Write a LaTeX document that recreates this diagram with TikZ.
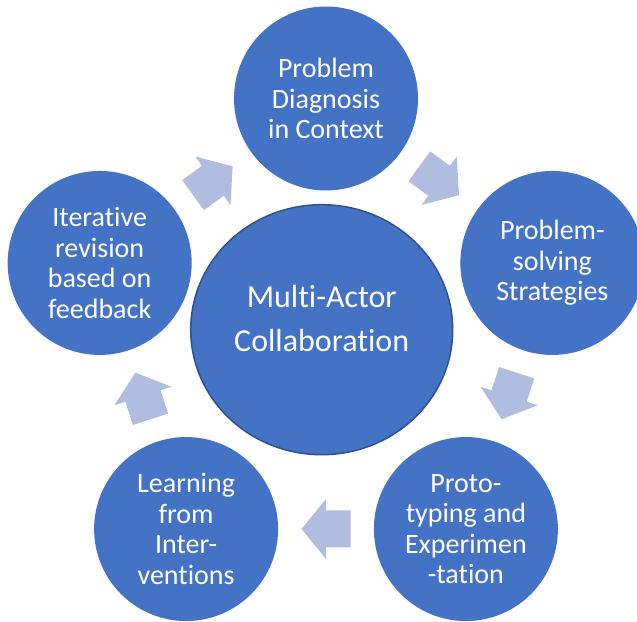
\documentclass[tikz,border=0pt]{standalone}
\usepackage{fontspec}
\setmainfont{Carlito}[Ligatures={NoCommon,NoRare,NoContextual}]
\usetikzlibrary{shapes.geometric}
\definecolor{stepblue}{HTML}{4472C4}
\definecolor{rimblue}{HTML}{2F528F}
\definecolor{arrowblue}{RGB}{176,189,222}
\begin{document}
\begin{tikzpicture}[
		x=1pt, y=1pt,
		every node/.style={text=white, align=center},
		phase/.style={circle, fill=stepblue, minimum size=184pt, inner sep=0pt, font=\fontsize{28}{30.5}\selectfont},
		hub/.style={ellipse, fill=stepblue, draw=rimblue, line width=1.5pt, minimum width=262pt, minimum height=250pt},
		hubtext/.style={font=\fontsize{32}{44}\selectfont},
		cyclearrow/.pic={\fill[arrowblue] (-24.5,-18.5) -- (0,-18.5) -- (0,-30) -- (24.5,0) -- (0,30) -- (0,18.5) -- (-24.5,18.5) -- cycle;}
	]
	\useasboundingbox (0,0) rectangle (637,621);
	\coordinate (middle) at (326,284.5);
	\node[hub] (hub) at (321.7,291.3) {};
	\node[hubtext] (hublabel) at ([yshift=11]hub.center) {Multi-Actor\\Collaboration};
	\node[phase] (diagnosis) at ([shift={(90:238)}]middle) {Problem\\Diagnosis\\in Context};
	\node[phase] (strategies) at ([shift={(18:238)}]middle) {Problem-\\solving\\Strategies};
	\node[phase] (prototyping) at ([shift={(-54:238)}]middle) {Proto-\\typing and\\Experimen\\-tation};
	\node[phase] (learning) at ([shift={(-126:238)}]middle) {Learning\\from\\Inter-\\ventions};
	\node[phase] (revision) at ([shift={(162:238)}]middle) {Iterative\\revision\\based on\\feedback};
	\foreach \a [evaluate=\a as \turn using \a-90] in {126,54,-18,-90,-162}
		\pic[rotate=\turn] at ([shift={(\a:192.5)}]middle) {cyclearrow};
\end{tikzpicture}
\end{document}
